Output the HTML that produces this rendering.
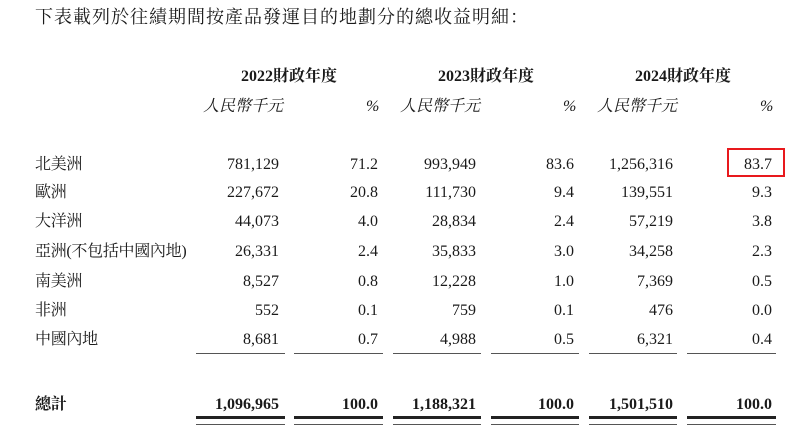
<!DOCTYPE html>
<html><head><meta charset="utf-8"><style>
body{margin:0;width:791px;height:446px;background:#fff;position:relative;overflow:hidden;font-family:"Liberation Serif","Noto Serif CJK SC",serif;color:#1a1a1a}
.t{position:absolute;white-space:nowrap;line-height:20px;font-size:16px}
.r{text-align:right;width:120px}
.h{font-weight:bold;text-align:center;width:140px}
.i{font-style:italic}
.b{font-weight:bold}
.l{position:absolute;height:1px;background:#555}
</style></head><body>
<div class="t" style="left:35px;top:6px;font-size:18px;letter-spacing:1px;line-height:22px">下表載列於往績期間按產品發運目的地劃分的總收益明細：</div>

<div class="t h" style="left:219px;top:67px">2022財政年度</div>
<div class="t h" style="left:416px;top:67px">2023財政年度</div>
<div class="t h" style="left:613px;top:67px">2024財政年度</div>

<div class="t i" style="left:203px;top:97px">人民幣千元</div>
<div class="t i" style="left:366px;top:97px">%</div>
<div class="t i" style="left:400px;top:97px">人民幣千元</div>
<div class="t i" style="left:563px;top:97px">%</div>
<div class="t i" style="left:597px;top:97px">人民幣千元</div>
<div class="t i" style="left:760px;top:97px">%</div>

<div id="rows"></div>
<div style="position:absolute;left:727px;top:148px;width:58px;height:29px;border:2px solid #e8191d;box-sizing:border-box"></div>

<div class="l" style="left:196px;top:353px;width:89px"></div>
<div class="l" style="left:294px;top:353px;width:89px"></div>
<div class="l" style="left:393px;top:353px;width:88px"></div>
<div class="l" style="left:491px;top:353px;width:88px"></div>
<div class="l" style="left:589px;top:353px;width:88px"></div>
<div class="l" style="left:687px;top:353px;width:89px"></div>

<div class="l" style="left:196px;top:416px;width:89px;height:3px;background:#222"></div>
<div class="l" style="left:294px;top:416px;width:89px;height:3px;background:#222"></div>
<div class="l" style="left:393px;top:416px;width:88px;height:3px;background:#222"></div>
<div class="l" style="left:491px;top:416px;width:88px;height:3px;background:#222"></div>
<div class="l" style="left:589px;top:416px;width:88px;height:3px;background:#222"></div>
<div class="l" style="left:687px;top:416px;width:89px;height:3px;background:#222"></div>
<div class="l" style="left:196px;top:424px;width:89px"></div>
<div class="l" style="left:294px;top:424px;width:89px"></div>
<div class="l" style="left:393px;top:424px;width:88px"></div>
<div class="l" style="left:491px;top:424px;width:88px"></div>
<div class="l" style="left:589px;top:424px;width:88px"></div>
<div class="l" style="left:687px;top:424px;width:89px"></div>

<script>
var rows=[["北美洲","781,129","71.2","993,949","83.6","1,256,316","83.7"],
["歐洲","227,672","20.8","111,730","9.4","139,551","9.3"],
["大洋洲","44,073","4.0","28,834","2.4","57,219","3.8"],
["亞洲(不包括中國內地)","26,331","2.4","35,833","3.0","34,258","2.3"],
["南美洲","8,527","0.8","12,228","1.0","7,369","0.5"],
["非洲","552","0.1","759","0.1","476","0.0"],
["中國內地","8,681","0.7","4,988","0.5","6,321","0.4"],
["總計","1,096,965","100.0","1,188,321","100.0","1,501,510","100.0"]];
var ys=[165,193,222,252,282,311,340,405],rx=[279,378,476,574,673,772],h="";
rows.forEach(function(r,i){var b=i==7?" b":"";var top=ys[i]-10;
h+='<div class="t'+b+'" style="left:35px;top:'+top+'px;letter-spacing:-0.3px">'+r[0]+'</div>';
for(var j=1;j<7;j++)h+='<div class="t r'+b+'" style="left:'+(rx[j-1]-120)+'px;top:'+top+'px">'+r[j]+'</div>';});
document.getElementById("rows").innerHTML=h;
</script>
</body></html>
